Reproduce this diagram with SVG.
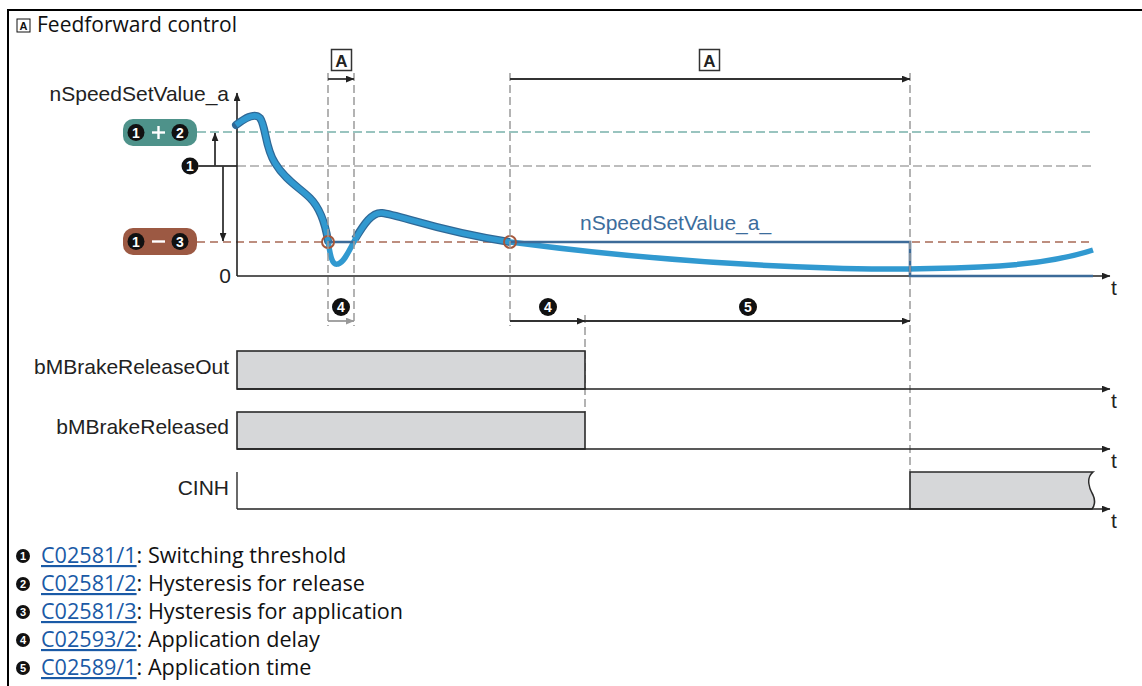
<svg xmlns="http://www.w3.org/2000/svg" width="1142" height="686" viewBox="0 0 1142 686">
<defs>
<marker id="ah" viewBox="0 0 10 8" refX="9.5" refY="4" markerWidth="9" markerHeight="7" markerUnits="userSpaceOnUse" orient="auto"><path d="M0,0 L10,4 L0,8 z" fill="#222"/></marker>
<marker id="ahg" viewBox="0 0 10 8" refX="9.5" refY="4" markerWidth="9" markerHeight="7" markerUnits="userSpaceOnUse" orient="auto"><path d="M0,0 L10,4 L0,8 z" fill="#999"/></marker>
</defs>
<style>
.lbl{font-family:"Liberation Sans",Arial,sans-serif;font-size:21px;fill:#222}
.ft{font-family:"Open Sans","Noto Sans",sans-serif;font-size:21px;fill:#111}
.fn{font-size:21.6px}
.lnk{fill:#1a5aa6;text-decoration:underline}
.vd{stroke:#9a9a9a;stroke-width:1.5;stroke-dasharray:8 4;fill:none}
.ax{stroke:#222;stroke-width:1.6;fill:none}
.ar{stroke:#333;stroke-width:1.8;fill:none}
.sig{fill:#d6d7d9;stroke:#2a2a2a;stroke-width:1.6}
.bc{fill:#111}
.bd{font-family:"Liberation Sans",Arial,sans-serif;font-weight:bold;fill:#fff;text-anchor:middle}
.abox{fill:#fff;stroke:#333;stroke-width:1.5}
.atx{font-family:"Liberation Sans",Arial,sans-serif;font-weight:bold;font-size:17px;fill:#222;text-anchor:middle}
</style>
<rect width="1142" height="686" fill="#fff"/>
<g id="frame">
<path d="M8,686 V10 H1142" fill="none" stroke="#000" stroke-width="2"/>
<rect x="17" y="19" width="13" height="13" fill="#fff" stroke="#111" stroke-width="1"/>
<text x="23.5" y="29.6" font-family="Liberation Sans, Arial, sans-serif" font-weight="bold" font-size="11" fill="#111" text-anchor="middle">A</text>
<text class="ft" x="37" y="32">Feedforward control</text>
</g>
<g id="thresholds">
<line x1="197" y1="132" x2="1093" y2="132" stroke="#78b1aa" stroke-width="1.6" stroke-dasharray="9 4"/>
<line x1="237" y1="166" x2="1093" y2="166" stroke="#a8a8a8" stroke-width="1.6" stroke-dasharray="9 4"/>
<line x1="197" y1="242" x2="1093" y2="242" stroke="#a86a55" stroke-width="1.4" stroke-dasharray="8 5"/>
</g>
<g id="badge12">
<rect x="123" y="119" width="74" height="27" rx="10" fill="#4e928a"/>
<circle class="bc" cx="136" cy="132.5" r="8.5"/><text class="bd" x="136" y="137.5" font-size="14">1</text>
<rect x="152" y="131.3" width="13" height="2.4" fill="#fff"/><rect x="157.3" y="126" width="2.4" height="13" fill="#fff"/>
<circle class="bc" cx="180" cy="132.5" r="8.5"/><text class="bd" x="180" y="137.5" font-size="14">2</text>
</g>
<g id="badge13">
<rect x="123" y="228" width="74" height="27" rx="10" fill="#9c5943"/>
<circle class="bc" cx="136" cy="241.5" r="8.5"/><text class="bd" x="136" y="246.5" font-size="14">1</text>
<rect x="152" y="240.3" width="13" height="2.4" fill="#fff"/>
<circle class="bc" cx="180" cy="241.5" r="8.5"/><text class="bd" x="180" y="246.5" font-size="14">3</text>
</g>
<g id="badge1">
<circle class="bc" cx="190" cy="166" r="8.5"/><text class="bd" x="190" y="171" font-size="14">1</text>
<line x1="198" y1="166" x2="237" y2="166" stroke="#444" stroke-width="1.8"/>
</g>
<g id="axes">
<path class="ax" d="M237,276 V93" marker-end="url(#ah)"/>
<path class="ax" d="M237,276 H1110" marker-end="url(#ah)"/>
<text class="lbl" x="229" y="101" text-anchor="end">nSpeedSetValue_a</text>
<text class="lbl" x="231" y="283" text-anchor="end">0</text>
<text class="lbl" x="1111" y="295">t</text>
</g>
<g id="curve">
<path d="M236,125 C244,119 254,112 260,118 C266,126 265,148 275,163 C285,180 300,188 310,198 C320,208 325,222 328,241" fill="none" stroke="#2f6896" stroke-width="8" stroke-linecap="round"/>
<path d="M355,239 C364,224 372,212 382,213 C400,215 440,232 510,242" fill="none" stroke="#2f6896" stroke-width="8"/>
<path d="M236,125 C244,119 254,112 260,118 C266,126 265,148 275,163 C285,180 300,188 310,198 C320,208 325,222 328,240 C330,255 332,266 338,264 C345,262 350,248 356,238 C364,224 372,212 382,213 C400,215 440,232 510,242 C600,254 700,264 830,268 C880,270 930,269 980,267 C1030,265 1065,259 1093,250" fill="none" stroke="#3199d0" stroke-width="5.5"/>
<path d="M328,242 H355 M510,242 H910 V276 H1093" fill="none" stroke="#3c6b99" stroke-width="2.6"/>
<circle cx="328" cy="242" r="6" fill="none" stroke="#a5573b" stroke-width="2"/>
<circle cx="510" cy="242" r="6" fill="none" stroke="#a5573b" stroke-width="2"/>
<text class="lbl" x="580" y="230" style="fill:#3c6d9c">nSpeedSetValue_a_</text>
</g>
<g id="connectors">
<path class="ar" d="M215,166 V133" marker-end="url(#ah)"/>
<path class="ar" d="M223,166 V241" marker-end="url(#ah)"/>
<line class="vd" x1="328" y1="73" x2="328" y2="326"/>
<line class="vd" x1="354" y1="73" x2="354" y2="326"/>
<line class="vd" x1="510" y1="73" x2="510" y2="326"/>
<line class="vd" x1="585" y1="315" x2="585" y2="412"/>
<line class="vd" x1="910" y1="73" x2="910" y2="472"/>
<path class="ar" d="M328,79 H354" marker-end="url(#ah)"/>
<path class="ar" d="M510,79 H910" marker-end="url(#ah)"/>
<path d="M328,321 H354" stroke="#999" stroke-width="1.8" fill="none" marker-end="url(#ahg)"/>
<path class="ar" d="M510,321 H585" marker-end="url(#ah)"/>
<path class="ar" d="M585,321 H910" marker-end="url(#ah)"/>
</g>
<g id="markerA1"><rect class="abox" x="331.5" y="49.5" width="20" height="21"/><text class="atx" x="341.5" y="66.5">A</text></g>
<g id="markerA2"><rect class="abox" x="699.5" y="49.5" width="20" height="21"/><text class="atx" x="709.5" y="66.5">A</text></g>
<g id="marker4a"><circle class="bc" cx="341" cy="307" r="9"/><text class="bd" x="341" y="312.2" font-size="14">4</text></g>
<g id="marker4b"><circle class="bc" cx="548" cy="307" r="9"/><text class="bd" x="548" y="312.2" font-size="14">4</text></g>
<g id="marker5"><circle class="bc" cx="748" cy="307" r="9"/><text class="bd" x="748" y="312.2" font-size="14">5</text></g>
<g id="row-releaseOut">
<rect class="sig" x="237" y="351" width="348" height="38"/>
<path class="ax" d="M237,389 H1110" marker-end="url(#ah)"/>
<text class="lbl" x="229" y="374" text-anchor="end">bMBrakeReleaseOut</text>
<text class="lbl" x="1111" y="408">t</text>
</g>
<g id="row-released">
<rect class="sig" x="237" y="412" width="348" height="37"/>
<path class="ax" d="M237,449 H1110" marker-end="url(#ah)"/>
<text class="lbl" x="229" y="434" text-anchor="end">bMBrakeReleased</text>
<text class="lbl" x="1111" y="468">t</text>
</g>
<g id="row-cinh">
<line x1="237" y1="472" x2="237" y2="509" stroke="#2a2a2a" stroke-width="1.4"/>
<path class="sig" d="M910,509 V472 H1093 C1086,478 1089,488 1093,495 C1096,501 1094,507 1092,509 Z"/>
<path class="ax" d="M237,509 H1110" marker-end="url(#ah)"/>
<text class="lbl" x="229" y="495" text-anchor="end">CINH</text>
<text class="lbl" x="1111" y="528">t</text>
</g>
<g id="notes">
<circle class="bc" cx="23" cy="556" r="7"/><text class="bd" x="23" y="560" font-size="11">1</text>
<text class="ft fn" x="41" y="563"><tspan class="lnk">C02581/1</tspan>: Switching threshold</text>
<circle class="bc" cx="23" cy="584" r="7"/><text class="bd" x="23" y="588" font-size="11">2</text>
<text class="ft fn" x="41" y="591"><tspan class="lnk">C02581/2</tspan>: Hysteresis for release</text>
<circle class="bc" cx="23" cy="612" r="7"/><text class="bd" x="23" y="616" font-size="11">3</text>
<text class="ft fn" x="41" y="619"><tspan class="lnk">C02581/3</tspan>: Hysteresis for application</text>
<circle class="bc" cx="23" cy="640" r="7"/><text class="bd" x="23" y="644" font-size="11">4</text>
<text class="ft fn" x="41" y="647"><tspan class="lnk">C02593/2</tspan>: Application delay</text>
<circle class="bc" cx="23" cy="668" r="7"/><text class="bd" x="23" y="672" font-size="11">5</text>
<text class="ft fn" x="41" y="675"><tspan class="lnk">C02589/1</tspan>: Application time</text>
</g>
</svg>
